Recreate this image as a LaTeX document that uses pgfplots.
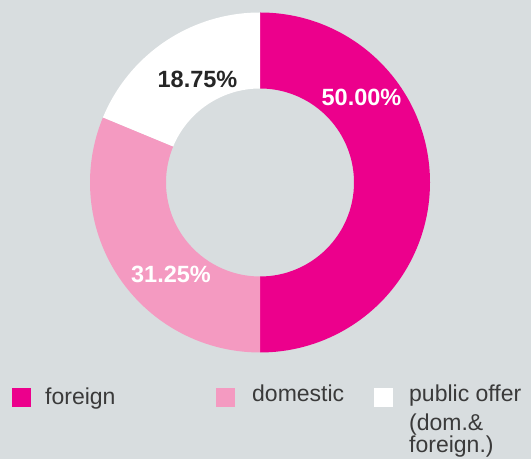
\documentclass[border=0pt]{standalone}
\usepackage{pgfplots}
\pgfplotsset{compat=1.18}
\usepackage{pgfplotstable}
\usepackage{fontspec}
\setmainfont{Liberation Sans}

\definecolor{bgcol}{HTML}{D8DDDF}
\definecolor{foreigncol}{HTML}{EC008C}
\definecolor{domesticcol}{HTML}{F49AC1}
\definecolor{txtcol}{HTML}{3A3A3A}

% share of each group, in percent
\pgfplotstableread{
label value
foreign 50.00
domestic 31.25
public 18.75
}\sharetable

\begin{document}
\begin{tikzpicture}
\pgfplotstablegetelem{0}{value}\of\sharetable \pgfmathsetmacro\vA{\pgfplotsretval}
\pgfplotstablegetelem{1}{value}\of\sharetable \pgfmathsetmacro\vB{\pgfplotsretval}
\pgfplotstablegetelem{2}{value}\of\sharetable \pgfmathsetmacro\vC{\pgfplotsretval}
% angles, clockwise from the top
\pgfmathsetmacro\aA{90}
\pgfmathsetmacro\aB{\aA-3.6*\vA}
\pgfmathsetmacro\aC{\aB-3.6*\vB}
\pgfmathsetmacro\aD{\aC-3.6*\vC}
\def\Ro{170bp}
\def\Ri{94bp}
\begin{axis}[width=531bp,height=459bp,scale only axis,
  xmin=0,xmax=531,ymin=0,ymax=459,hide axis,clip=false]
\fill[bgcol] (axis cs:0,0) rectangle (axis cs:531,459);
\fill[foreigncol] ([shift={(\aA:\Ro)}]axis cs:260,276.5) arc[start angle=\aA,end angle=\aB,radius=\Ro]
  -- ([shift={(\aB:\Ri)}]axis cs:260,276.5) arc[start angle=\aB,end angle=\aA,radius=\Ri] -- cycle;
\fill[domesticcol] ([shift={(\aB:\Ro)}]axis cs:260,276.5) arc[start angle=\aB,end angle=\aC,radius=\Ro]
  -- ([shift={(\aC:\Ri)}]axis cs:260,276.5) arc[start angle=\aC,end angle=\aB,radius=\Ri] -- cycle;
\fill[white] ([shift={(\aC:\Ro)}]axis cs:260,276.5) arc[start angle=\aC,end angle=\aD,radius=\Ro]
  -- ([shift={(\aD:\Ri)}]axis cs:260,276.5) arc[start angle=\aD,end angle=\aC,radius=\Ri] -- cycle;

\node[anchor=base,white,font=\fontsize{23.5bp}{26bp}\selectfont\bfseries] at (axis cs:361.5,353) {50.00\%};
\node[anchor=base,white,font=\fontsize{23.5bp}{26bp}\selectfont\bfseries] at (axis cs:171,176) {31.25\%};
\node[anchor=base,black!85,font=\fontsize{23.5bp}{26bp}\selectfont\bfseries] at (axis cs:197.5,371) {18.75\%};

% legend
\fill[foreigncol] (axis cs:12,52) rectangle (axis cs:31,71);
\fill[domesticcol] (axis cs:216,52) rectangle (axis cs:235,71);
\fill[white] (axis cs:374,52) rectangle (axis cs:393,71);
\begin{scope}[every node/.style={anchor=base west,inner sep=0pt,txtcol,font=\fontsize{23bp}{25bp}\selectfont}]
\node at (axis cs:45,54) {foreign};
\node at (axis cs:252,57) {domestic};
\node at (axis cs:409,57) {public offer};
\node at (axis cs:409,29) {(dom.\&};
\node at (axis cs:409,7) {foreign.)};
\end{scope}
\end{axis}
\end{tikzpicture}
\end{document}
